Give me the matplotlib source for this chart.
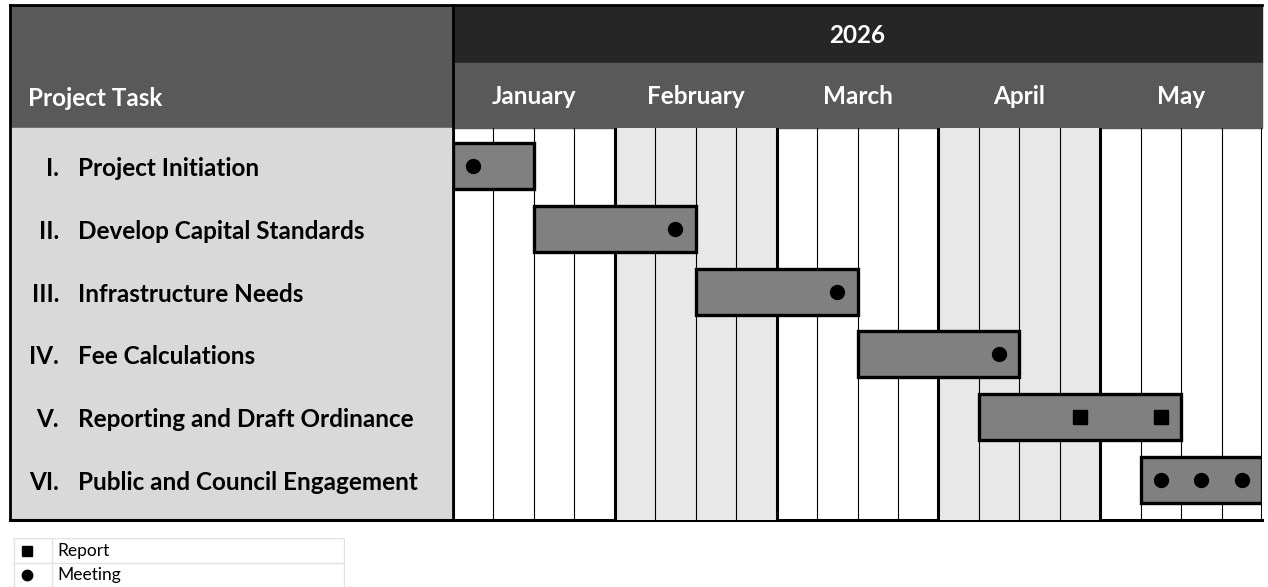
import matplotlib.pyplot as plt
import matplotlib.transforms as mtransforms
from matplotlib.patches import Rectangle

plt.rcParams['font.family'] = ['Lato', 'DejaVu Sans']

# chart data
year = "2026"
months = ["January", "February", "March", "April", "May"]
weeks_per_month = 4
numerals = ["I.", "II.", "III.", "IV.", "V.", "VI."]
tasks = ["Project Initiation", "Develop Capital Standards", "Infrastructure Needs",
         "Fee Calculations", "Reporting and Draft Ordinance", "Public and Council Engagement"]
start_week = [0, 2, 6, 10, 13, 17]
duration_weeks = [2, 4, 4, 4, 5, 3]
meetings_row = [0, 1, 2, 3, 5, 5, 5]
meetings_week = [0.5, 5.5, 9.5, 13.5, 17.5, 18.5, 19.5]
reports_row = [4, 4]
reports_week = [15.5, 17.5]
legend_labels = ["Report", "Meeting"]

W, H = 1268, 587
fig = plt.figure(figsize=(W / 100, H / 100), dpi=100)

# frame axes in pixel units for the header blocks and borders
frame = fig.add_axes([0, 0, 1, 1], zorder=0)
frame.set_xlim(0, W)
frame.set_ylim(H, 0)
frame.axis('off')

frame.add_patch(Rectangle((10, 5), 443, 123, color='#595959'))
frame.add_patch(Rectangle((453, 5), 809, 58, color='#262626'))
frame.add_patch(Rectangle((453, 63), 809, 65, color='#595959'))
frame.add_patch(Rectangle((10, 128), 443, 392, color='#d9d9d9'))
frame.text(28, 98, "Project Task", color='white', fontsize=17.5, fontweight='bold',
           va='center', ha='left')

# gantt axes: x in weeks, y in task rows
n_weeks = len(months) * weeks_per_month
x0, x1, y0, y1 = 453, 1262, 128, 520
ax = fig.add_axes([x0 / W, 1 - y1 / H, (x1 - x0) / W, (y1 - y0) / H], zorder=1)
ax.set_xlim(0, n_weeks)
ax.set_ylim(5.637, -0.605)
ax.axis('off')

# shaded months
for m in range(1, len(months), 2):
    ax.axvspan(m * weeks_per_month, (m + 1) * weeks_per_month, color='#e8e8e8', zorder=0)

for w in range(n_weeks + 1):
    if w % weeks_per_month == 0:
        ax.axvline(w, color='black', lw=2.2, zorder=1)
    else:
        ax.axvline(w, color='black', lw=0.8, zorder=1)

ax.barh(range(len(tasks)), duration_weeks, left=start_week, height=0.73,
        color='#808080', edgecolor='black', linewidth=2.4, zorder=2)
ax.plot(meetings_week, meetings_row, 'o', color='black', markersize=10, zorder=3)
ax.plot(reports_week, reports_row, 's', color='black', markersize=9.5, zorder=3)

# month and year labels above the grid
for i, m in enumerate(months):
    ax.text(i * weeks_per_month + weeks_per_month / 2, -1.1, m, color='white',
            fontsize=17.5, fontweight='bold', ha='center', va='center', clip_on=False)
ax.text(n_weeks / 2, -2.07, year, color='white', fontsize=17.5, fontweight='bold',
        ha='center', va='center', clip_on=False)

# task labels: x in pixels, y in rows
trans = mtransforms.blended_transform_factory(frame.transData, ax.transData)
for i, (num, task) in enumerate(zip(numerals, tasks)):
    ax.text(59, i + 0.04, num, transform=trans, ha='right', va='center', fontsize=17.5,
            fontweight='bold', clip_on=False)
    ax.text(78, i + 0.04, task, transform=trans, ha='left', va='center', fontsize=17.5,
            fontweight='bold', clip_on=False)

# borders
border = dict(color='black', zorder=5)
frame.plot([10, 1262], [5, 5], lw=2, **border)
frame.plot([10, 10], [5, 520], lw=2, **border)
frame.plot([453, 453], [5, 520], lw=2, **border)
frame.plot([10, 1262], [520, 520], lw=2.2, **border)

# legend table
leg = fig.add_axes([13 / W, 0, (345 - 13) / W, (587 - 538) / H], zorder=2)
leg.set_xlim(13, 345)
leg.set_ylim(587, 538)
leg.axis('off')
grid_c = '#e2e2e2'
leg.plot([13, 345], [538.5, 538.5], color=grid_c, lw=1)
leg.plot([13, 345], [563, 563], color=grid_c, lw=1)
leg.plot([13.5, 13.5], [538, 587], color=grid_c, lw=1)
leg.plot([52, 52], [538, 587], color=grid_c, lw=1)
leg.plot([344.5, 344.5], [538, 587], color=grid_c, lw=1)
leg.plot([27], [551], 's', color='black', markersize=7)
leg.plot([27], [575], 'o', color='black', markersize=7.5)
leg.text(57, 551, legend_labels[0], fontsize=12.5, va='center', ha='left')
leg.text(57, 575, legend_labels[1], fontsize=12.5, va='center', ha='left')

fig.savefig('out.png', dpi=100)
